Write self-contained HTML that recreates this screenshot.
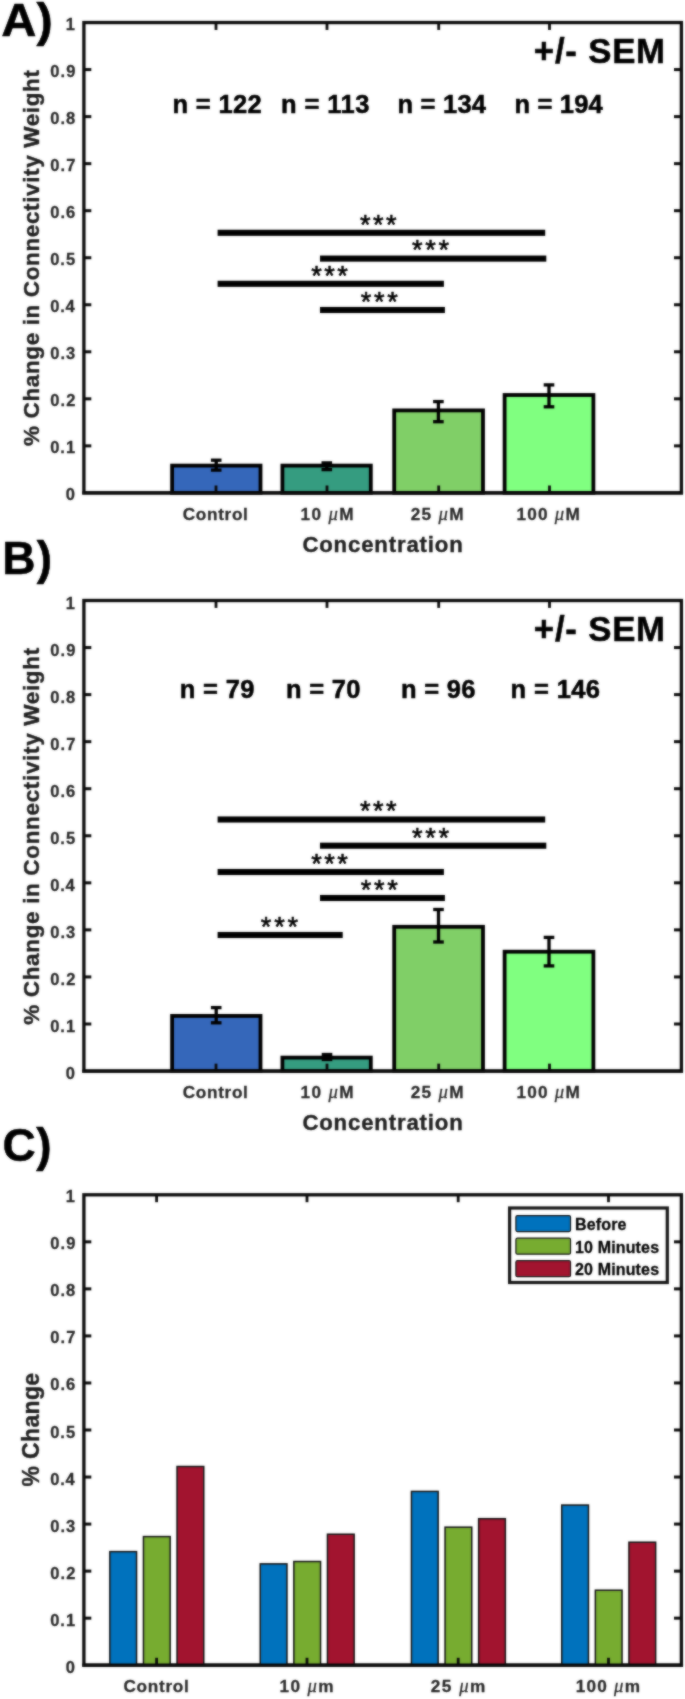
<!DOCTYPE html>
<html><head><meta charset="utf-8"><title>Figure</title>
<style>
html,body{margin:0;padding:0;background:#fff;}
body{width:685px;height:1699px;overflow:hidden;font-family:"Liberation Sans",sans-serif;}
svg{display:block;}
svg text{stroke-linejoin:round;paint-order:stroke fill;}
</style></head><body>
<svg width="685" height="1699" viewBox="0 0 685 1699">
<defs><filter id="soft" x="0" y="0" width="685" height="1699" filterUnits="userSpaceOnUse" color-interpolation-filters="sRGB"><feGaussianBlur in="SourceGraphic" stdDeviation="0.9" result="b"/><feComposite in="SourceGraphic" in2="b" operator="arithmetic" k1="0" k2="0.4" k3="0.6" k4="0"/></filter></defs>
<g filter="url(#soft)">
<rect x="-5" y="-5" width="695" height="1709" fill="#fff"/>
<rect x="83.9" y="22.55" width="597.5" height="470.34999999999997" fill="none" stroke="#0a0a0a" stroke-width="3.3"/>
<line x1="83.9" y1="445.87" x2="91.30000000000001" y2="445.87" stroke="#0a0a0a" stroke-width="3.0"/>
<line x1="681.4" y1="445.87" x2="674.0" y2="445.87" stroke="#0a0a0a" stroke-width="3.0"/>
<line x1="83.9" y1="398.83" x2="91.30000000000001" y2="398.83" stroke="#0a0a0a" stroke-width="3.0"/>
<line x1="681.4" y1="398.83" x2="674.0" y2="398.83" stroke="#0a0a0a" stroke-width="3.0"/>
<line x1="83.9" y1="351.79" x2="91.30000000000001" y2="351.79" stroke="#0a0a0a" stroke-width="3.0"/>
<line x1="681.4" y1="351.79" x2="674.0" y2="351.79" stroke="#0a0a0a" stroke-width="3.0"/>
<line x1="83.9" y1="304.76" x2="91.30000000000001" y2="304.76" stroke="#0a0a0a" stroke-width="3.0"/>
<line x1="681.4" y1="304.76" x2="674.0" y2="304.76" stroke="#0a0a0a" stroke-width="3.0"/>
<line x1="83.9" y1="257.73" x2="91.30000000000001" y2="257.73" stroke="#0a0a0a" stroke-width="3.0"/>
<line x1="681.4" y1="257.73" x2="674.0" y2="257.73" stroke="#0a0a0a" stroke-width="3.0"/>
<line x1="83.9" y1="210.69" x2="91.30000000000001" y2="210.69" stroke="#0a0a0a" stroke-width="3.0"/>
<line x1="681.4" y1="210.69" x2="674.0" y2="210.69" stroke="#0a0a0a" stroke-width="3.0"/>
<line x1="83.9" y1="163.65" x2="91.30000000000001" y2="163.65" stroke="#0a0a0a" stroke-width="3.0"/>
<line x1="681.4" y1="163.65" x2="674.0" y2="163.65" stroke="#0a0a0a" stroke-width="3.0"/>
<line x1="83.9" y1="116.62" x2="91.30000000000001" y2="116.62" stroke="#0a0a0a" stroke-width="3.0"/>
<line x1="681.4" y1="116.62" x2="674.0" y2="116.62" stroke="#0a0a0a" stroke-width="3.0"/>
<line x1="83.9" y1="69.59" x2="91.30000000000001" y2="69.59" stroke="#0a0a0a" stroke-width="3.0"/>
<line x1="681.4" y1="69.59" x2="674.0" y2="69.59" stroke="#0a0a0a" stroke-width="3.0"/>
<line x1="216.0" y1="22.55" x2="216.0" y2="29.950000000000003" stroke="#0a0a0a" stroke-width="2.8"/>
<line x1="327.0" y1="22.55" x2="327.0" y2="29.950000000000003" stroke="#0a0a0a" stroke-width="2.8"/>
<line x1="438.7" y1="22.55" x2="438.7" y2="29.950000000000003" stroke="#0a0a0a" stroke-width="2.8"/>
<line x1="549.5" y1="22.55" x2="549.5" y2="29.950000000000003" stroke="#0a0a0a" stroke-width="2.8"/>
<text x="74.9" y="500.40" text-anchor="end" font-family="Liberation Sans, sans-serif" font-weight="bold" font-size="16.5" fill="#262626" stroke="#262626" stroke-width="0.28">0</text>
<text x="50.15" y="453.37" font-family="Liberation Sans, sans-serif" font-weight="bold" font-size="16.5" fill="#262626" stroke="#262626" stroke-width="0.28" letter-spacing="1.037" >0.1</text>
<text x="50.15" y="406.33" font-family="Liberation Sans, sans-serif" font-weight="bold" font-size="16.5" fill="#262626" stroke="#262626" stroke-width="0.28" letter-spacing="1.138" >0.2</text>
<text x="50.15" y="359.29" font-family="Liberation Sans, sans-serif" font-weight="bold" font-size="16.5" fill="#262626" stroke="#262626" stroke-width="0.28" letter-spacing="1.106" >0.3</text>
<text x="50.15" y="312.26" font-family="Liberation Sans, sans-serif" font-weight="bold" font-size="16.5" fill="#262626" stroke="#262626" stroke-width="0.28" letter-spacing="0.852" >0.4</text>
<text x="50.15" y="265.23" font-family="Liberation Sans, sans-serif" font-weight="bold" font-size="16.5" fill="#262626" stroke="#262626" stroke-width="0.28" letter-spacing="1.037" >0.5</text>
<text x="50.15" y="218.19" font-family="Liberation Sans, sans-serif" font-weight="bold" font-size="16.5" fill="#262626" stroke="#262626" stroke-width="0.28" letter-spacing="1.106" >0.6</text>
<text x="50.15" y="171.15" font-family="Liberation Sans, sans-serif" font-weight="bold" font-size="16.5" fill="#262626" stroke="#262626" stroke-width="0.28" letter-spacing="1.170" >0.7</text>
<text x="50.15" y="124.12" font-family="Liberation Sans, sans-serif" font-weight="bold" font-size="16.5" fill="#262626" stroke="#262626" stroke-width="0.28" letter-spacing="1.061" >0.8</text>
<text x="50.15" y="77.09" font-family="Liberation Sans, sans-serif" font-weight="bold" font-size="16.5" fill="#262626" stroke="#262626" stroke-width="0.28" letter-spacing="1.114" >0.9</text>
<text x="74.9" y="30.05" text-anchor="end" font-family="Liberation Sans, sans-serif" font-weight="bold" font-size="16.5" fill="#262626" stroke="#262626" stroke-width="0.28">1</text>
<text transform="translate(39.0,445.96) rotate(-90) scale(1.0,1)" font-family="Liberation Sans, sans-serif" font-weight="bold" font-size="22.5" fill="#1e1e1e" stroke="#1e1e1e" stroke-width="0.4" letter-spacing="0.627">% Change in Connectivity Weight</text>
<rect x="172.10" y="465.60" width="88.40" height="27.30" fill="#3567BA" stroke="#000" stroke-width="3.8"/>
<rect x="282.40" y="465.60" width="88.40" height="27.30" fill="#359C80" stroke="#000" stroke-width="3.8"/>
<rect x="394.20" y="410.40" width="88.80" height="82.50" fill="#80CF67" stroke="#000" stroke-width="3.8"/>
<rect x="504.60" y="395.00" width="88.80" height="97.90" fill="#80FF80" stroke="#000" stroke-width="3.8"/>
<line x1="216.2" y1="460.2" x2="216.2" y2="470.1" stroke="#000" stroke-width="3.3"/>
<line x1="210.89999999999998" y1="460.2" x2="221.5" y2="460.2" stroke="#000" stroke-width="3.3"/>
<line x1="210.89999999999998" y1="470.1" x2="221.5" y2="470.1" stroke="#000" stroke-width="3.3"/>
<line x1="326.8" y1="462.9" x2="326.8" y2="469.6" stroke="#000" stroke-width="3.3"/>
<line x1="321.5" y1="462.9" x2="332.1" y2="462.9" stroke="#000" stroke-width="3.3"/>
<line x1="321.5" y1="469.6" x2="332.1" y2="469.6" stroke="#000" stroke-width="3.3"/>
<line x1="438.4" y1="401.6" x2="438.4" y2="421.7" stroke="#000" stroke-width="3.3"/>
<line x1="433.09999999999997" y1="401.6" x2="443.7" y2="401.6" stroke="#000" stroke-width="3.3"/>
<line x1="433.09999999999997" y1="421.7" x2="443.7" y2="421.7" stroke="#000" stroke-width="3.3"/>
<line x1="549.0" y1="384.9" x2="549.0" y2="406.8" stroke="#000" stroke-width="3.3"/>
<line x1="543.7" y1="384.9" x2="554.3" y2="384.9" stroke="#000" stroke-width="3.3"/>
<line x1="543.7" y1="406.8" x2="554.3" y2="406.8" stroke="#000" stroke-width="3.3"/>
<line x1="82.25" y1="492.9" x2="683.05" y2="492.9" stroke="#0a0a0a" stroke-width="3.3"/>
<line x1="216.0" y1="492.9" x2="216.0" y2="485.5" stroke="#0a0a0a" stroke-width="2.8"/>
<line x1="327.0" y1="492.9" x2="327.0" y2="485.5" stroke="#0a0a0a" stroke-width="2.8"/>
<line x1="438.7" y1="492.9" x2="438.7" y2="485.5" stroke="#0a0a0a" stroke-width="2.8"/>
<line x1="549.5" y1="492.9" x2="549.5" y2="485.5" stroke="#0a0a0a" stroke-width="2.8"/>
<rect x="217.6" y="229.75" width="327.60" height="6.1" fill="#000"/>
<text x="359.96" y="233.6" font-family="Liberation Sans, sans-serif" font-weight="normal" font-size="27.2" fill="#000" stroke="#000" stroke-width="0.55" letter-spacing="2.454" >***</text>
<rect x="320.0" y="255.55" width="226.30" height="6.1" fill="#000"/>
<text x="411.96" y="259.4" font-family="Liberation Sans, sans-serif" font-weight="normal" font-size="27.2" fill="#000" stroke="#000" stroke-width="0.55" letter-spacing="2.704" >***</text>
<rect x="217.6" y="280.75" width="226.30" height="6.1" fill="#000"/>
<text x="311.36" y="284.6" font-family="Liberation Sans, sans-serif" font-weight="normal" font-size="27.2" fill="#000" stroke="#000" stroke-width="0.55" letter-spacing="2.404" >***</text>
<rect x="320.0" y="306.95" width="124.90" height="6.1" fill="#000"/>
<text x="360.76" y="310.8" font-family="Liberation Sans, sans-serif" font-weight="normal" font-size="27.2" fill="#000" stroke="#000" stroke-width="0.55" letter-spacing="2.654" >***</text>
<text x="172.52" y="112.5" font-family="Liberation Sans, sans-serif" font-weight="bold" font-size="25.5" fill="#000" stroke="#000" stroke-width="0.55" letter-spacing="0.320" >n = 122</text>
<text x="281.02" y="112.5" font-family="Liberation Sans, sans-serif" font-weight="bold" font-size="25.5" fill="#000" stroke="#000" stroke-width="0.55" letter-spacing="0.420" >n = 113</text>
<text x="397.42" y="112.5" font-family="Liberation Sans, sans-serif" font-weight="bold" font-size="25.5" fill="#000" stroke="#000" stroke-width="0.55" letter-spacing="0.239" >n = 134</text>
<text x="514.52" y="112.5" font-family="Liberation Sans, sans-serif" font-weight="bold" font-size="25.5" fill="#000" stroke="#000" stroke-width="0.55" letter-spacing="0.172" >n = 194</text>
<text x="533.84" y="62.9" font-family="Liberation Sans, sans-serif" font-weight="bold" font-size="34.8" fill="#000" stroke="#000" stroke-width="0.55" letter-spacing="0.772" >+/- SEM</text>
<text transform="translate(1.29,35.9) scale(1.06,1)" font-family="Liberation Sans, sans-serif" font-weight="bold" font-size="46" fill="#000" stroke="#000" stroke-width="0.55" letter-spacing="0.087" >A)</text>
<text x="182.79" y="520.4" font-family="Liberation Sans, sans-serif" font-weight="bold" font-size="17.2" fill="#262626" stroke="#262626" stroke-width="0.28" letter-spacing="0.664" >Control</text>
<text x="300.52" y="520.4" font-family="Liberation Sans, sans-serif" font-weight="bold" font-size="17.2" fill="#262626" stroke="#262626" stroke-width="0.28" letter-spacing="1.352">10 <tspan font-family="Liberation Serif, serif" font-style="italic" font-weight="normal" font-size="18.7">&#956;</tspan>M</text>
<text x="410.70" y="520.4" font-family="Liberation Sans, sans-serif" font-weight="bold" font-size="17.2" fill="#262626" stroke="#262626" stroke-width="0.28" letter-spacing="1.306">25 <tspan font-family="Liberation Serif, serif" font-style="italic" font-weight="normal" font-size="18.7">&#956;</tspan>M</text>
<text x="516.52" y="520.4" font-family="Liberation Sans, sans-serif" font-weight="bold" font-size="17.2" fill="#262626" stroke="#262626" stroke-width="0.28" letter-spacing="1.209">100 <tspan font-family="Liberation Serif, serif" font-style="italic" font-weight="normal" font-size="18.7">&#956;</tspan>M</text>
<text x="302.39" y="552.1" font-family="Liberation Sans, sans-serif" font-weight="bold" font-size="22.2" fill="#1e1e1e" stroke="#1e1e1e" stroke-width="0.4" letter-spacing="0.827" >Concentration</text>
<rect x="83.9" y="600.5" width="597.5" height="470.54999999999995" fill="none" stroke="#0a0a0a" stroke-width="3.3"/>
<line x1="83.9" y1="1024.00" x2="91.30000000000001" y2="1024.00" stroke="#0a0a0a" stroke-width="3.0"/>
<line x1="681.4" y1="1024.00" x2="674.0" y2="1024.00" stroke="#0a0a0a" stroke-width="3.0"/>
<line x1="83.9" y1="976.94" x2="91.30000000000001" y2="976.94" stroke="#0a0a0a" stroke-width="3.0"/>
<line x1="681.4" y1="976.94" x2="674.0" y2="976.94" stroke="#0a0a0a" stroke-width="3.0"/>
<line x1="83.9" y1="929.88" x2="91.30000000000001" y2="929.88" stroke="#0a0a0a" stroke-width="3.0"/>
<line x1="681.4" y1="929.88" x2="674.0" y2="929.88" stroke="#0a0a0a" stroke-width="3.0"/>
<line x1="83.9" y1="882.83" x2="91.30000000000001" y2="882.83" stroke="#0a0a0a" stroke-width="3.0"/>
<line x1="681.4" y1="882.83" x2="674.0" y2="882.83" stroke="#0a0a0a" stroke-width="3.0"/>
<line x1="83.9" y1="835.77" x2="91.30000000000001" y2="835.77" stroke="#0a0a0a" stroke-width="3.0"/>
<line x1="681.4" y1="835.77" x2="674.0" y2="835.77" stroke="#0a0a0a" stroke-width="3.0"/>
<line x1="83.9" y1="788.72" x2="91.30000000000001" y2="788.72" stroke="#0a0a0a" stroke-width="3.0"/>
<line x1="681.4" y1="788.72" x2="674.0" y2="788.72" stroke="#0a0a0a" stroke-width="3.0"/>
<line x1="83.9" y1="741.66" x2="91.30000000000001" y2="741.66" stroke="#0a0a0a" stroke-width="3.0"/>
<line x1="681.4" y1="741.66" x2="674.0" y2="741.66" stroke="#0a0a0a" stroke-width="3.0"/>
<line x1="83.9" y1="694.61" x2="91.30000000000001" y2="694.61" stroke="#0a0a0a" stroke-width="3.0"/>
<line x1="681.4" y1="694.61" x2="674.0" y2="694.61" stroke="#0a0a0a" stroke-width="3.0"/>
<line x1="83.9" y1="647.56" x2="91.30000000000001" y2="647.56" stroke="#0a0a0a" stroke-width="3.0"/>
<line x1="681.4" y1="647.56" x2="674.0" y2="647.56" stroke="#0a0a0a" stroke-width="3.0"/>
<line x1="216.0" y1="600.5" x2="216.0" y2="607.9" stroke="#0a0a0a" stroke-width="2.8"/>
<line x1="327.0" y1="600.5" x2="327.0" y2="607.9" stroke="#0a0a0a" stroke-width="2.8"/>
<line x1="438.7" y1="600.5" x2="438.7" y2="607.9" stroke="#0a0a0a" stroke-width="2.8"/>
<line x1="549.5" y1="600.5" x2="549.5" y2="607.9" stroke="#0a0a0a" stroke-width="2.8"/>
<text x="74.9" y="1079.45" text-anchor="end" font-family="Liberation Sans, sans-serif" font-weight="bold" font-size="16.5" fill="#262626" stroke="#262626" stroke-width="0.28">0</text>
<text x="50.15" y="1032.39" font-family="Liberation Sans, sans-serif" font-weight="bold" font-size="16.5" fill="#262626" stroke="#262626" stroke-width="0.28" letter-spacing="1.037" >0.1</text>
<text x="50.15" y="985.34" font-family="Liberation Sans, sans-serif" font-weight="bold" font-size="16.5" fill="#262626" stroke="#262626" stroke-width="0.28" letter-spacing="1.138" >0.2</text>
<text x="50.15" y="938.28" font-family="Liberation Sans, sans-serif" font-weight="bold" font-size="16.5" fill="#262626" stroke="#262626" stroke-width="0.28" letter-spacing="1.106" >0.3</text>
<text x="50.15" y="891.23" font-family="Liberation Sans, sans-serif" font-weight="bold" font-size="16.5" fill="#262626" stroke="#262626" stroke-width="0.28" letter-spacing="0.852" >0.4</text>
<text x="50.15" y="844.17" font-family="Liberation Sans, sans-serif" font-weight="bold" font-size="16.5" fill="#262626" stroke="#262626" stroke-width="0.28" letter-spacing="1.037" >0.5</text>
<text x="50.15" y="797.12" font-family="Liberation Sans, sans-serif" font-weight="bold" font-size="16.5" fill="#262626" stroke="#262626" stroke-width="0.28" letter-spacing="1.106" >0.6</text>
<text x="50.15" y="750.06" font-family="Liberation Sans, sans-serif" font-weight="bold" font-size="16.5" fill="#262626" stroke="#262626" stroke-width="0.28" letter-spacing="1.170" >0.7</text>
<text x="50.15" y="703.01" font-family="Liberation Sans, sans-serif" font-weight="bold" font-size="16.5" fill="#262626" stroke="#262626" stroke-width="0.28" letter-spacing="1.061" >0.8</text>
<text x="50.15" y="655.96" font-family="Liberation Sans, sans-serif" font-weight="bold" font-size="16.5" fill="#262626" stroke="#262626" stroke-width="0.28" letter-spacing="1.114" >0.9</text>
<text x="74.9" y="608.90" text-anchor="end" font-family="Liberation Sans, sans-serif" font-weight="bold" font-size="16.5" fill="#262626" stroke="#262626" stroke-width="0.28">1</text>
<text transform="translate(39.0,1024.86) rotate(-90) scale(1.0,1)" font-family="Liberation Sans, sans-serif" font-weight="bold" font-size="22.5" fill="#1e1e1e" stroke="#1e1e1e" stroke-width="0.4" letter-spacing="0.664">% Change in Connectivity Weight</text>
<rect x="172.10" y="1015.90" width="88.40" height="55.15" fill="#3567BA" stroke="#000" stroke-width="3.8"/>
<rect x="282.40" y="1057.60" width="88.40" height="13.45" fill="#359C80" stroke="#000" stroke-width="3.8"/>
<rect x="394.20" y="926.80" width="88.80" height="144.25" fill="#80CF67" stroke="#000" stroke-width="3.8"/>
<rect x="504.60" y="951.70" width="88.80" height="119.35" fill="#80FF80" stroke="#000" stroke-width="3.8"/>
<line x1="216.2" y1="1007.6" x2="216.2" y2="1022.8" stroke="#000" stroke-width="3.3"/>
<line x1="210.89999999999998" y1="1007.6" x2="221.5" y2="1007.6" stroke="#000" stroke-width="3.3"/>
<line x1="210.89999999999998" y1="1022.8" x2="221.5" y2="1022.8" stroke="#000" stroke-width="3.3"/>
<line x1="327" y1="1054.5" x2="327" y2="1059.5" stroke="#000" stroke-width="3.3"/>
<line x1="321.7" y1="1054.5" x2="332.3" y2="1054.5" stroke="#000" stroke-width="3.3"/>
<line x1="321.7" y1="1059.5" x2="332.3" y2="1059.5" stroke="#000" stroke-width="3.3"/>
<line x1="438.5" y1="909.5" x2="438.5" y2="942.0" stroke="#000" stroke-width="3.3"/>
<line x1="433.2" y1="909.5" x2="443.8" y2="909.5" stroke="#000" stroke-width="3.3"/>
<line x1="433.2" y1="942.0" x2="443.8" y2="942.0" stroke="#000" stroke-width="3.3"/>
<line x1="549.0" y1="937.4" x2="549.0" y2="965.9" stroke="#000" stroke-width="3.3"/>
<line x1="543.7" y1="937.4" x2="554.3" y2="937.4" stroke="#000" stroke-width="3.3"/>
<line x1="543.7" y1="965.9" x2="554.3" y2="965.9" stroke="#000" stroke-width="3.3"/>
<line x1="82.25" y1="1071.05" x2="683.05" y2="1071.05" stroke="#0a0a0a" stroke-width="3.3"/>
<line x1="216.0" y1="1071.05" x2="216.0" y2="1063.6499999999999" stroke="#0a0a0a" stroke-width="2.8"/>
<line x1="327.0" y1="1071.05" x2="327.0" y2="1063.6499999999999" stroke="#0a0a0a" stroke-width="2.8"/>
<line x1="438.7" y1="1071.05" x2="438.7" y2="1063.6499999999999" stroke="#0a0a0a" stroke-width="2.8"/>
<line x1="549.5" y1="1071.05" x2="549.5" y2="1063.6499999999999" stroke="#0a0a0a" stroke-width="2.8"/>
<rect x="217.6" y="816.45" width="327.60" height="6.1" fill="#000"/>
<text x="359.96" y="820.3" font-family="Liberation Sans, sans-serif" font-weight="normal" font-size="27.2" fill="#000" stroke="#000" stroke-width="0.55" letter-spacing="2.454" >***</text>
<rect x="320.0" y="842.65" width="226.30" height="6.1" fill="#000"/>
<text x="411.96" y="846.5" font-family="Liberation Sans, sans-serif" font-weight="normal" font-size="27.2" fill="#000" stroke="#000" stroke-width="0.55" letter-spacing="2.704" >***</text>
<rect x="217.6" y="868.95" width="226.30" height="6.1" fill="#000"/>
<text x="311.36" y="872.8" font-family="Liberation Sans, sans-serif" font-weight="normal" font-size="27.2" fill="#000" stroke="#000" stroke-width="0.55" letter-spacing="2.404" >***</text>
<rect x="320.0" y="894.95" width="124.90" height="6.1" fill="#000"/>
<text x="360.76" y="898.8" font-family="Liberation Sans, sans-serif" font-weight="normal" font-size="27.2" fill="#000" stroke="#000" stroke-width="0.55" letter-spacing="2.654" >***</text>
<rect x="217.6" y="931.95" width="125.10" height="6.1" fill="#000"/>
<text x="260.86" y="935.8" font-family="Liberation Sans, sans-serif" font-weight="normal" font-size="27.2" fill="#000" stroke="#000" stroke-width="0.55" letter-spacing="2.704" >***</text>
<text x="179.82" y="697.9" font-family="Liberation Sans, sans-serif" font-weight="bold" font-size="25.5" fill="#000" stroke="#000" stroke-width="0.55" letter-spacing="0.305" >n = 79</text>
<text x="285.92" y="697.9" font-family="Liberation Sans, sans-serif" font-weight="bold" font-size="25.5" fill="#000" stroke="#000" stroke-width="0.55" letter-spacing="0.325" >n = 70</text>
<text x="400.92" y="697.9" font-family="Liberation Sans, sans-serif" font-weight="bold" font-size="25.5" fill="#000" stroke="#000" stroke-width="0.55" letter-spacing="0.300" >n = 96</text>
<text x="510.62" y="697.9" font-family="Liberation Sans, sans-serif" font-weight="bold" font-size="25.5" fill="#000" stroke="#000" stroke-width="0.55" letter-spacing="0.370" >n = 146</text>
<text x="533.84" y="640.7" font-family="Liberation Sans, sans-serif" font-weight="bold" font-size="34.8" fill="#000" stroke="#000" stroke-width="0.55" letter-spacing="0.772" >+/- SEM</text>
<text x="2.22" y="573.8" font-family="Liberation Sans, sans-serif" font-weight="bold" font-size="46" fill="#000" stroke="#000" stroke-width="0.55" letter-spacing="1.230" >B)</text>
<text x="182.79" y="1098.3" font-family="Liberation Sans, sans-serif" font-weight="bold" font-size="17.2" fill="#262626" stroke="#262626" stroke-width="0.28" letter-spacing="0.664" >Control</text>
<text x="300.52" y="1098.3" font-family="Liberation Sans, sans-serif" font-weight="bold" font-size="17.2" fill="#262626" stroke="#262626" stroke-width="0.28" letter-spacing="1.352">10 <tspan font-family="Liberation Serif, serif" font-style="italic" font-weight="normal" font-size="18.7">&#956;</tspan>M</text>
<text x="410.70" y="1098.3" font-family="Liberation Sans, sans-serif" font-weight="bold" font-size="17.2" fill="#262626" stroke="#262626" stroke-width="0.28" letter-spacing="1.306">25 <tspan font-family="Liberation Serif, serif" font-style="italic" font-weight="normal" font-size="18.7">&#956;</tspan>M</text>
<text x="516.52" y="1098.3" font-family="Liberation Sans, sans-serif" font-weight="bold" font-size="17.2" fill="#262626" stroke="#262626" stroke-width="0.28" letter-spacing="1.209">100 <tspan font-family="Liberation Serif, serif" font-style="italic" font-weight="normal" font-size="18.7">&#956;</tspan>M</text>
<text x="302.39" y="1130.0" font-family="Liberation Sans, sans-serif" font-weight="bold" font-size="22.2" fill="#1e1e1e" stroke="#1e1e1e" stroke-width="0.4" letter-spacing="0.827" >Concentration</text>
<rect x="83.9" y="1194.8" width="597.5" height="470.4000000000001" fill="none" stroke="#0a0a0a" stroke-width="3.3"/>
<line x1="83.9" y1="1618.16" x2="91.30000000000001" y2="1618.16" stroke="#0a0a0a" stroke-width="3.0"/>
<line x1="681.4" y1="1618.16" x2="674.0" y2="1618.16" stroke="#0a0a0a" stroke-width="3.0"/>
<line x1="83.9" y1="1571.12" x2="91.30000000000001" y2="1571.12" stroke="#0a0a0a" stroke-width="3.0"/>
<line x1="681.4" y1="1571.12" x2="674.0" y2="1571.12" stroke="#0a0a0a" stroke-width="3.0"/>
<line x1="83.9" y1="1524.08" x2="91.30000000000001" y2="1524.08" stroke="#0a0a0a" stroke-width="3.0"/>
<line x1="681.4" y1="1524.08" x2="674.0" y2="1524.08" stroke="#0a0a0a" stroke-width="3.0"/>
<line x1="83.9" y1="1477.04" x2="91.30000000000001" y2="1477.04" stroke="#0a0a0a" stroke-width="3.0"/>
<line x1="681.4" y1="1477.04" x2="674.0" y2="1477.04" stroke="#0a0a0a" stroke-width="3.0"/>
<line x1="83.9" y1="1430.00" x2="91.30000000000001" y2="1430.00" stroke="#0a0a0a" stroke-width="3.0"/>
<line x1="681.4" y1="1430.00" x2="674.0" y2="1430.00" stroke="#0a0a0a" stroke-width="3.0"/>
<line x1="83.9" y1="1382.96" x2="91.30000000000001" y2="1382.96" stroke="#0a0a0a" stroke-width="3.0"/>
<line x1="681.4" y1="1382.96" x2="674.0" y2="1382.96" stroke="#0a0a0a" stroke-width="3.0"/>
<line x1="83.9" y1="1335.92" x2="91.30000000000001" y2="1335.92" stroke="#0a0a0a" stroke-width="3.0"/>
<line x1="681.4" y1="1335.92" x2="674.0" y2="1335.92" stroke="#0a0a0a" stroke-width="3.0"/>
<line x1="83.9" y1="1288.88" x2="91.30000000000001" y2="1288.88" stroke="#0a0a0a" stroke-width="3.0"/>
<line x1="681.4" y1="1288.88" x2="674.0" y2="1288.88" stroke="#0a0a0a" stroke-width="3.0"/>
<line x1="83.9" y1="1241.84" x2="91.30000000000001" y2="1241.84" stroke="#0a0a0a" stroke-width="3.0"/>
<line x1="681.4" y1="1241.84" x2="674.0" y2="1241.84" stroke="#0a0a0a" stroke-width="3.0"/>
<line x1="156.6" y1="1194.8" x2="156.6" y2="1202.2" stroke="#0a0a0a" stroke-width="2.8"/>
<line x1="307.0" y1="1194.8" x2="307.0" y2="1202.2" stroke="#0a0a0a" stroke-width="2.8"/>
<line x1="458.2" y1="1194.8" x2="458.2" y2="1202.2" stroke="#0a0a0a" stroke-width="2.8"/>
<line x1="608.5" y1="1194.8" x2="608.5" y2="1202.2" stroke="#0a0a0a" stroke-width="2.8"/>
<text x="74.9" y="1672.70" text-anchor="end" font-family="Liberation Sans, sans-serif" font-weight="bold" font-size="16.5" fill="#262626" stroke="#262626" stroke-width="0.28">0</text>
<text x="50.15" y="1625.66" font-family="Liberation Sans, sans-serif" font-weight="bold" font-size="16.5" fill="#262626" stroke="#262626" stroke-width="0.28" letter-spacing="1.037" >0.1</text>
<text x="50.15" y="1578.62" font-family="Liberation Sans, sans-serif" font-weight="bold" font-size="16.5" fill="#262626" stroke="#262626" stroke-width="0.28" letter-spacing="1.138" >0.2</text>
<text x="50.15" y="1531.58" font-family="Liberation Sans, sans-serif" font-weight="bold" font-size="16.5" fill="#262626" stroke="#262626" stroke-width="0.28" letter-spacing="1.106" >0.3</text>
<text x="50.15" y="1484.54" font-family="Liberation Sans, sans-serif" font-weight="bold" font-size="16.5" fill="#262626" stroke="#262626" stroke-width="0.28" letter-spacing="0.852" >0.4</text>
<text x="50.15" y="1437.5" font-family="Liberation Sans, sans-serif" font-weight="bold" font-size="16.5" fill="#262626" stroke="#262626" stroke-width="0.28" letter-spacing="1.037" >0.5</text>
<text x="50.15" y="1390.46" font-family="Liberation Sans, sans-serif" font-weight="bold" font-size="16.5" fill="#262626" stroke="#262626" stroke-width="0.28" letter-spacing="1.106" >0.6</text>
<text x="50.15" y="1343.42" font-family="Liberation Sans, sans-serif" font-weight="bold" font-size="16.5" fill="#262626" stroke="#262626" stroke-width="0.28" letter-spacing="1.170" >0.7</text>
<text x="50.15" y="1296.38" font-family="Liberation Sans, sans-serif" font-weight="bold" font-size="16.5" fill="#262626" stroke="#262626" stroke-width="0.28" letter-spacing="1.061" >0.8</text>
<text x="50.15" y="1249.34" font-family="Liberation Sans, sans-serif" font-weight="bold" font-size="16.5" fill="#262626" stroke="#262626" stroke-width="0.28" letter-spacing="1.114" >0.9</text>
<text x="74.9" y="1202.30" text-anchor="end" font-family="Liberation Sans, sans-serif" font-weight="bold" font-size="16.5" fill="#262626" stroke="#262626" stroke-width="0.28">1</text>
<text transform="translate(39.0,1486.47) rotate(-90) scale(1.0,1)" font-family="Liberation Sans, sans-serif" font-weight="bold" font-size="23.0" fill="#1e1e1e" stroke="#1e1e1e" stroke-width="0.4" letter-spacing="0.340">% Change</text>
<rect x="109.85" y="1551.64" width="26.70" height="113.56" fill="#0072BD" stroke="#111" stroke-width="1.5"/>
<rect x="143.45" y="1536.59" width="26.70" height="128.61" fill="#77AC30" stroke="#111" stroke-width="1.5"/>
<rect x="177.05" y="1466.50" width="26.70" height="198.70" fill="#A2142F" stroke="#111" stroke-width="1.5"/>
<rect x="260.25" y="1563.87" width="26.70" height="101.33" fill="#0072BD" stroke="#111" stroke-width="1.5"/>
<rect x="293.85" y="1561.52" width="26.70" height="103.68" fill="#77AC30" stroke="#111" stroke-width="1.5"/>
<rect x="327.45" y="1534.24" width="26.70" height="130.96" fill="#A2142F" stroke="#111" stroke-width="1.5"/>
<rect x="411.45" y="1491.43" width="26.70" height="173.77" fill="#0072BD" stroke="#111" stroke-width="1.5"/>
<rect x="445.05" y="1527.18" width="26.70" height="138.02" fill="#77AC30" stroke="#111" stroke-width="1.5"/>
<rect x="478.65" y="1518.71" width="26.70" height="146.49" fill="#A2142F" stroke="#111" stroke-width="1.5"/>
<rect x="561.75" y="1505.07" width="26.70" height="160.13" fill="#0072BD" stroke="#111" stroke-width="1.5"/>
<rect x="595.35" y="1590.22" width="26.70" height="74.98" fill="#77AC30" stroke="#111" stroke-width="1.5"/>
<rect x="628.95" y="1542.23" width="26.70" height="122.97" fill="#A2142F" stroke="#111" stroke-width="1.5"/>
<line x1="82.25" y1="1665.2" x2="683.05" y2="1665.2" stroke="#0a0a0a" stroke-width="3.3"/>
<line x1="156.6" y1="1665.2" x2="156.6" y2="1657.8" stroke="#0a0a0a" stroke-width="2.8"/>
<line x1="307.0" y1="1665.2" x2="307.0" y2="1657.8" stroke="#0a0a0a" stroke-width="2.8"/>
<line x1="458.2" y1="1665.2" x2="458.2" y2="1657.8" stroke="#0a0a0a" stroke-width="2.8"/>
<line x1="608.5" y1="1665.2" x2="608.5" y2="1657.8" stroke="#0a0a0a" stroke-width="2.8"/>
<rect x="509.6" y="1208.0" width="157.7" height="74.5" fill="#fff" stroke="#161616" stroke-width="3.2"/>
<rect x="515.9" y="1215.60" width="54.6" height="16.0" rx="1.5" fill="#0072BD" stroke="#111" stroke-width="1.2"/>
<text x="575.0" y="1230.0" text-anchor="start" font-family="Liberation Sans, sans-serif" font-weight="bold" font-size="16" fill="#000" stroke="#000" stroke-width="0.28" letter-spacing="0.15">Before</text>
<rect x="515.9" y="1238.15" width="54.6" height="16.0" rx="1.5" fill="#77AC30" stroke="#111" stroke-width="1.2"/>
<text x="575.0" y="1252.55" text-anchor="start" font-family="Liberation Sans, sans-serif" font-weight="bold" font-size="16" fill="#000" stroke="#000" stroke-width="0.28" letter-spacing="0.15">10 Minutes</text>
<rect x="515.9" y="1260.70" width="54.6" height="16.0" rx="1.5" fill="#A2142F" stroke="#111" stroke-width="1.2"/>
<text x="575.0" y="1275.1" text-anchor="start" font-family="Liberation Sans, sans-serif" font-weight="bold" font-size="16" fill="#000" stroke="#000" stroke-width="0.28" letter-spacing="0.15">20 Minutes</text>
<text x="2.41" y="1160.5" font-family="Liberation Sans, sans-serif" font-weight="bold" font-size="46" fill="#000" stroke="#000" stroke-width="0.55" letter-spacing="0.740" >C)</text>
<text x="123.39" y="1692.0" font-family="Liberation Sans, sans-serif" font-weight="bold" font-size="17.2" fill="#262626" stroke="#262626" stroke-width="0.28" letter-spacing="0.730" >Control</text>
<text x="279.62" y="1692.0" font-family="Liberation Sans, sans-serif" font-weight="bold" font-size="17.2" fill="#262626" stroke="#262626" stroke-width="0.28" letter-spacing="1.340">10 <tspan font-family="Liberation Serif, serif" font-style="italic" font-weight="normal" font-size="18.7">&#956;</tspan>m</text>
<text x="430.80" y="1692.0" font-family="Liberation Sans, sans-serif" font-weight="bold" font-size="17.2" fill="#262626" stroke="#262626" stroke-width="0.28" letter-spacing="1.493">25 <tspan font-family="Liberation Serif, serif" font-style="italic" font-weight="normal" font-size="18.7">&#956;</tspan>m</text>
<text x="575.82" y="1692.0" font-family="Liberation Sans, sans-serif" font-weight="bold" font-size="17.2" fill="#262626" stroke="#262626" stroke-width="0.28" letter-spacing="1.199">100 <tspan font-family="Liberation Serif, serif" font-style="italic" font-weight="normal" font-size="18.7">&#956;</tspan>m</text>
</g>
</svg>
</body></html>
